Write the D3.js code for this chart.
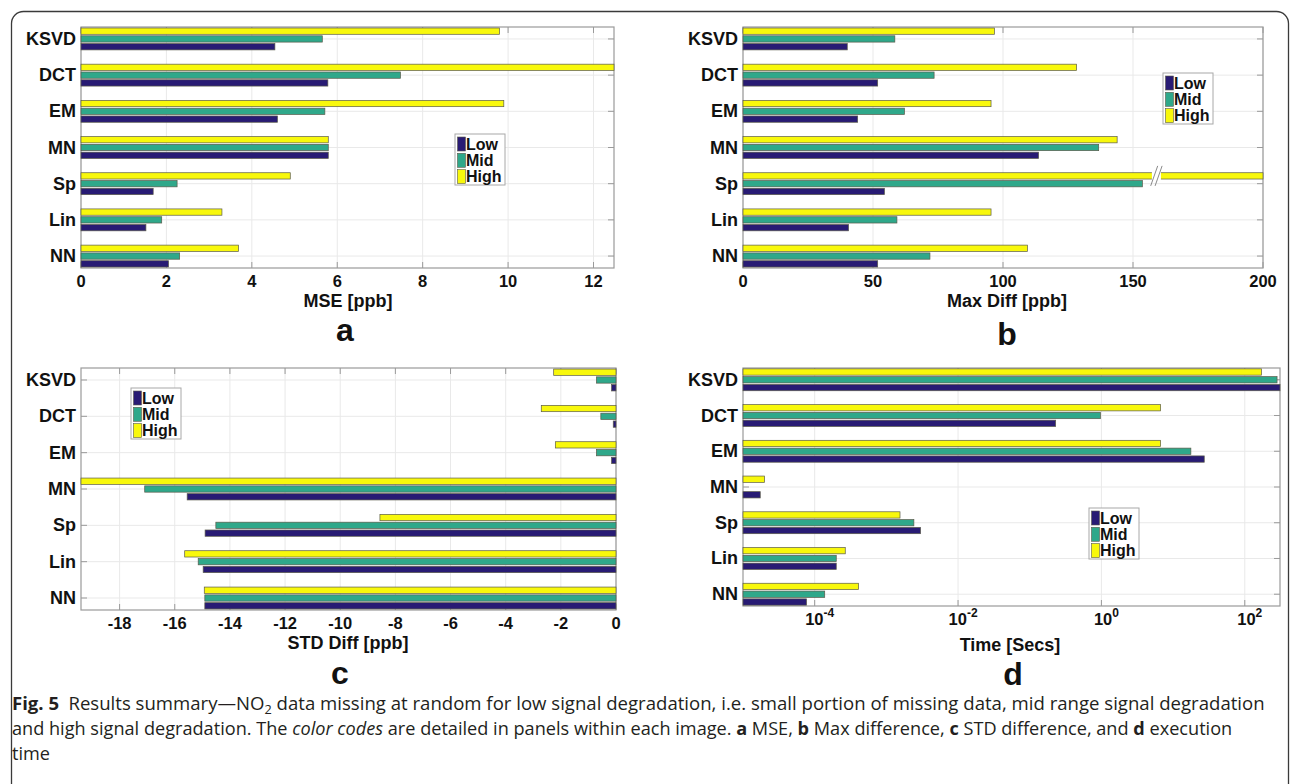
<!DOCTYPE html>
<html>
<head>
<meta charset="utf-8">
<script src="https://cdn.jsdelivr.net/npm/d3@7"></script>
<style>
  html, body { margin: 0; padding: 0; background: #fff; }
  svg { display: block; }
  .tick-label, .cat-label, .axis-title, .panel-letter, .legend-text {
    font-family: "Liberation Sans", Arial, Helvetica, sans-serif;
    font-weight: bold;
    fill: #111;
  }
  .caption { font-family: "Open Sans", "Noto Sans", sans-serif; fill: #231f20; }
</style>
</head>
<body>
<svg id="fig" width="1295" height="784"></svg>
<script>
// Methods and degradation levels
const categories = ["KSVD", "DCT", "EM", "MN", "Sp", "Lin", "NN"];
const seriesNames = ["Low", "Mid", "High"];
const seriesColors = ["#281b74", "#2fa88a", "#f8f80c"];

// (a) MSE [ppb]
const mseLow  = [4.54, 5.78, 4.60, 5.79, 1.69, 1.52, 2.05];
const mseMid  = [5.65, 7.48, 5.71, 5.79, 2.25, 1.89, 2.31];
const mseHigh = [9.80, 12.5, 9.90, 5.79, 4.90, 3.30, 3.69];
const mseTicks = [0, 2, 4, 6, 8, 10, 12];

// (b) Max Diff [ppb]  (Sp / High runs off the axis, shown with a break)
const maxLow  = [40.1, 51.8, 44.1, 113.7, 54.4, 40.6, 51.8];
const maxMid  = [58.4, 73.5, 62.1, 136.8, 153.6, 59.2, 71.9];
const maxHigh = [96.7, 128.3, 95.4, 143.9, 260, 95.4, 109.4];
const maxTicks = [0, 50, 100, 150, 200];

// (c) STD Diff [ppb]
const stdLow  = [-0.16, -0.10, -0.16, -15.55, -14.90, -14.97, -14.91];
const stdMid  = [-0.71, -0.55, -0.71, -17.09, -14.51, -15.15, -14.91];
const stdHigh = [-2.26, -2.71, -2.20, -19.4, -8.56, -15.64, -14.93];
const stdTicks = [-18, -16, -14, -12, -10, -8, -6, -4, -2, 0];

// (d) Time [Secs]
const timeLow  = [310, 0.23, 27.2, 1.74e-5, 3.0e-3, 2.0e-4, 7.7e-5];
const timeMid  = [282, 0.97, 17.7, 9e-6, 2.42e-3, 2.0e-4, 1.38e-4];
const timeHigh = [171, 6.7, 6.7, 2.0e-5, 1.55e-3, 2.67e-4, 4.1e-4];
const timeTickExps = [-4, -2, 0, 2];

const svg = d3.select("#fig");

// outer frame with rounded corners
svg.append("rect")
  .attr("x", 11.5).attr("y", 11.5)
  .attr("width", 1277).attr("height", 790)
  .attr("rx", 12).attr("ry", 12)
  .attr("fill", "none").attr("stroke", "#3a3a3a").attr("stroke-width", 1.3);

function drawPanel(cfg) {
  const g = svg.append("g");
  const x = cfg.x;
  const [x0, x1] = x.range();
  const y = d3.scaleLinear().domain([-0.33, categories.length - 1 + 0.33])
    .range([cfg.top, cfg.bottom]);
  const pitch = 7.8 / ((cfg.bottom - cfg.top) / 6.66);   // bar spacing in category units
  const barH = 6.3;

  // grid
  g.selectAll(".vgrid").data(cfg.ticks).join("line")
    .attr("x1", d => x(d)).attr("x2", d => x(d))
    .attr("y1", cfg.top).attr("y2", cfg.bottom)
    .attr("stroke", "#e9e9e9").attr("stroke-width", 1);
  g.selectAll(".hgrid").data(categories).join("line")
    .attr("x1", x0).attr("x2", x1)
    .attr("y1", (d, i) => y(i)).attr("y2", (d, i) => y(i))
    .attr("stroke", "#e9e9e9").attr("stroke-width", 1);

  // box
  g.append("rect")
    .attr("x", x0).attr("y", cfg.top)
    .attr("width", x1 - x0).attr("height", cfg.bottom - cfg.top)
    .attr("fill", "none").attr("stroke", "#9a9a9a").attr("stroke-width", 1.2);

  // inward ticks on all sides
  const tl = 6;
  cfg.ticks.forEach(t => {
    g.append("line").attr("x1", x(t)).attr("x2", x(t))
      .attr("y1", cfg.top).attr("y2", cfg.top + tl).attr("stroke", "#9a9a9a");
    g.append("line").attr("x1", x(t)).attr("x2", x(t))
      .attr("y1", cfg.bottom).attr("y2", cfg.bottom - tl).attr("stroke", "#9a9a9a");
  });
  categories.forEach((c, i) => {
    g.append("line").attr("x1", x0).attr("x2", x0 + tl)
      .attr("y1", y(i)).attr("y2", y(i)).attr("stroke", "#9a9a9a");
    g.append("line").attr("x1", x1).attr("x2", x1 - tl)
      .attr("y1", y(i)).attr("y2", y(i)).attr("stroke", "#9a9a9a");
  });

  // bars: High on top, then Mid, then Low
  const offsets = [1, 0, -1];
  cfg.series.forEach((vals, s) => {
    const rows = vals.map((v, i) => ({ v, i }))
      .filter(d => cfg.visible(d.v));
    g.selectAll(".bar" + s).data(rows).join("rect")
      .attr("x", d => Math.min(x(cfg.base), x(cfg.clamp(d.v))))
      .attr("width", d => Math.abs(x(cfg.clamp(d.v)) - x(cfg.base)))
      .attr("y", d => y(d.i + offsets[s] * pitch) - barH / 2)
      .attr("height", barH)
      .attr("fill", seriesColors[s])
      .attr("stroke", "#5a5a4a").attr("stroke-width", 0.7);
  });

  if (cfg.after) cfg.after(g, x, y, pitch, barH);

  // category labels
  g.selectAll(".cat").data(categories).join("text")
    .attr("class", "cat-label")
    .attr("x", x0 - 5).attr("y", (d, i) => y(i) + 6)
    .attr("text-anchor", "end").attr("font-size", 18)
    .text(d => d);

  // tick labels
  const tickY = cfg.bottom + 18.5;
  cfg.ticks.forEach((t, k) => {
    const txt = g.append("text").attr("class", "tick-label")
      .attr("x", x(t)).attr("y", tickY).attr("text-anchor", "middle")
      .attr("font-size", 16.5);
    cfg.tickText(txt, t, k);
  });

  // axis title
  g.append("text").attr("class", "axis-title")
    .attr("x", cfg.titleX).attr("y", cfg.titleY)
    .attr("text-anchor", "middle").attr("font-size", 18)
    .text(cfg.title);

  // panel letter
  g.append("text").attr("class", "panel-letter")
    .attr("x", cfg.letterX).attr("y", cfg.letterY)
    .attr("text-anchor", "middle").attr("font-size", 32)
    .text(cfg.letter);

  // legend
  const lg = g.append("g").attr("transform", `translate(${cfg.legend[0]},${cfg.legend[1]})`);
  lg.append("rect").attr("x", 0).attr("y", 0).attr("width", 50).attr("height", 51)
    .attr("fill", "#fff").attr("stroke", "#a8a8a8").attr("stroke-width", 1);
  seriesNames.forEach((n, s) => {
    lg.append("rect").attr("x", 2.5).attr("y", 3 + s * 16.3)
      .attr("width", 8).attr("height", 14)
      .attr("fill", seriesColors[s]).attr("stroke", "#5a5a4a").attr("stroke-width", 0.6);
    lg.append("text").attr("class", "legend-text")
      .attr("x", 11).attr("y", 15.5 + s * 16.3).attr("font-size", 16)
      .text(n);
  });
}

const plainTicks = (txt, t) => txt.text(t);

// (a)
const xa = d3.scaleLinear().domain([0, 12.48]).range([81, 614]);
drawPanel({
  x: xa, top: 27, bottom: 268, ticks: mseTicks, tickText: plainTicks,
  series: [mseLow, mseMid, mseHigh], base: 0,
  clamp: v => Math.min(v, 12.48), visible: v => v > 0,
  title: "MSE [ppb]", titleX: 348, titleY: 307,
  letter: "a", letterX: 345, letterY: 341,
  legend: [455, 134]
});

// (b)
const xb = d3.scaleLinear().domain([0, 200]).range([743, 1263]);
drawPanel({
  x: xb, top: 27, bottom: 268, ticks: maxTicks, tickText: plainTicks,
  series: [maxLow, maxMid, maxHigh], base: 0,
  clamp: v => Math.min(v, 200), visible: v => v > 0,
  title: "Max Diff [ppb]", titleX: 1007, titleY: 307,
  letter: "b", letterX: 1007, letterY: 345,
  legend: [1163, 73],
  after: (g, x, y, pitch, barH) => {
    // axis break on the bar that exceeds the range
    maxHigh.forEach((v, i) => {
      if (v <= 200) return;
      const yc = y(i - pitch);
      const bx = x(159);
      g.append("rect").attr("x", bx - 4.5).attr("y", yc - barH / 2 - 1)
        .attr("width", 9).attr("height", barH + 2).attr("fill", "#fff");
      [-2.2, 2.2].forEach(dx => {
        g.append("line")
          .attr("x1", bx + dx - 3.5).attr("y1", yc + 10)
          .attr("x2", bx + dx + 3.5).attr("y2", yc - 10)
          .attr("stroke", "#8a8a8a").attr("stroke-width", 1);
      });
    });
  }
});

// (c)
const xc = d3.scaleLinear().domain([-19.4, 0]).range([81, 616]);
drawPanel({
  x: xc, top: 368, bottom: 610, ticks: stdTicks, tickText: plainTicks,
  series: [stdLow, stdMid, stdHigh], base: 0,
  clamp: v => Math.max(v, -19.4), visible: v => v < 0,
  title: "STD Diff [ppb]", titleX: 348, titleY: 649,
  letter: "c", letterX: 340, letterY: 684,
  legend: [131, 388]
});

// (d)
const xd = d3.scaleLog().domain([1e-5, 310]).range([743, 1280]);
drawPanel({
  x: xd, top: 368, bottom: 606, ticks: timeTickExps.map(e => Math.pow(10, e)),
  tickText: (txt, t, k) => {
    txt.attr("text-anchor", "middle").attr("dx", 5);
    txt.append("tspan").text("10");
    txt.append("tspan").attr("dy", -8).attr("font-size", 12).text(timeTickExps[k]);
  },
  series: [timeLow, timeMid, timeHigh], base: 1e-5,
  clamp: v => Math.min(v, 310), visible: v => v > 1e-5,
  title: "Time [Secs]", titleX: 1010, titleY: 651,
  letter: "d", letterX: 1013, letterY: 685,
  legend: [1089, 508]
});

// caption
const capLines = [
  { y: 710, width: 1253, parts: [
    { t: "Fig. 5", w: "bold" }, { t: "\u2002Results summary\u2014NO" },
    { t: "2", sub: true }, { t: " data missing at random for low signal degradation, i.e. small portion of missing data, mid range signal degradation" } ] },
  { y: 735, width: 1221, parts: [
    { t: "and high signal degradation. The " }, { t: "color codes", i: true },
    { t: " are detailed in panels within each image. " }, { t: "a", w: "bold" },
    { t: " MSE, " }, { t: "b", w: "bold" }, { t: " Max difference, " }, { t: "c", w: "bold" },
    { t: " STD difference, and " }, { t: "d", w: "bold" }, { t: " execution" } ] },
  { y: 760, width: null, parts: [ { t: "time" } ] }
];
let lastScale = 1;
capLines.forEach(line => {
  const txt = svg.append("text").attr("class", "caption")
    .attr("x", 0).attr("y", 0).attr("font-size", 17.5);
  line.parts.forEach(p => {
    const ts = txt.append("tspan").text(p.t);
    if (p.w) ts.attr("font-weight", p.w);
    if (p.i) ts.attr("font-style", "italic");
    if (p.sub) { ts.attr("font-size", 12).attr("dy", 4); }
  });
  // return to the baseline after a subscript
  txt.selectAll("tspan").each(function (d, k) {
    if (k > 0 && line.parts[k - 1].sub) d3.select(this).attr("dy", -4);
  });
  const len = txt.node().getComputedTextLength();
  const sc = line.width ? line.width / len : lastScale;
  lastScale = sc;
  txt.attr("transform", `translate(12,${line.y}) scale(${sc},1)`);
});
</script>
</body>
</html>
